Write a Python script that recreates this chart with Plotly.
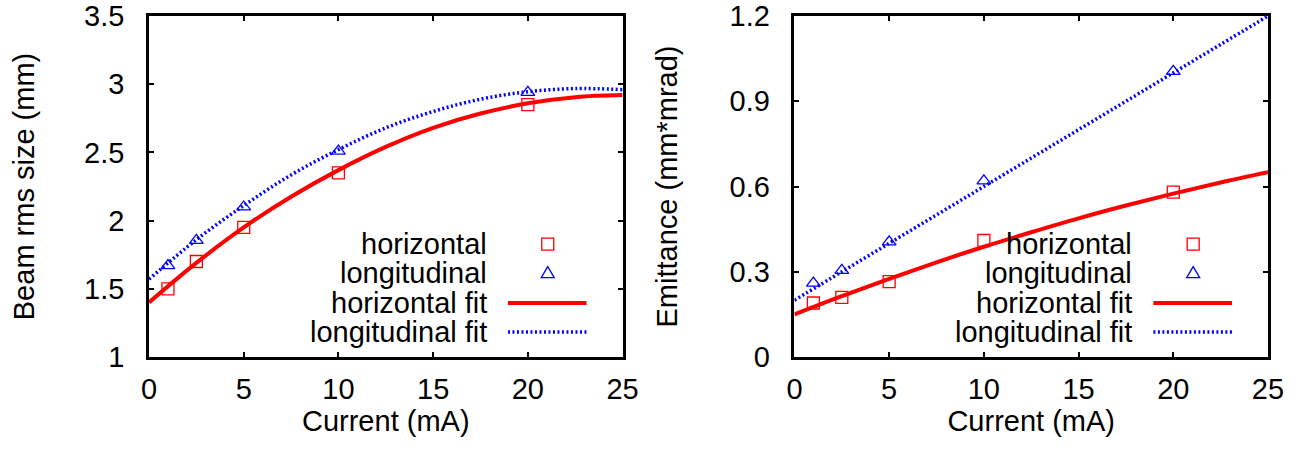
import plotly.graph_objects as go
from plotly.subplots import make_subplots

# ---- data ----
current = [1, 2.5, 5, 10, 20]

size_horizontal = [1.50, 1.70, 1.95, 2.35, 2.85]
size_longitudinal = [1.67, 1.855, 2.10, 2.51, 2.94]

emit_horizontal = [0.19, 0.21, 0.265, 0.41, 0.58]
emit_longitudinal = [0.26, 0.305, 0.405, 0.62, 1.005]

fit_current = [0, 2.5, 5, 7.5, 10, 12.5, 15, 17.5, 20, 22.5, 25]
size_horizontal_fit = [1.40, 1.69, 1.95, 2.175, 2.37, 2.54, 2.68, 2.785, 2.86, 2.905, 2.92]
size_longitudinal_fit = [1.57, 1.86, 2.11, 2.335, 2.52, 2.68, 2.80, 2.89, 2.945, 2.968, 2.96]
emit_horizontal_fit = [0.15, 0.214, 0.275, 0.333, 0.388, 0.439, 0.488, 0.533, 0.575, 0.614, 0.65]
emit_longitudinal_fit = [0.20, 0.30, 0.40, 0.50, 0.60, 0.70, 0.80, 0.90, 1.00, 1.10, 1.20]

legend_labels = ["horizontal", "longitudinal", "horizontal fit", "longitudinal fit"]
x_ticks = [0, 5, 10, 15, 20, 25]
size_ticks = [1, 1.5, 2, 2.5, 3, 3.5]
emit_ticks = [0, 0.3, 0.6, 0.9, 1.2]

RED = "#ff0000"
BLUE = "#0000ff"
FONT = "Liberation Sans, Arial, sans-serif"
FS = 29
DOT = "2px,2.5px"

fig = make_subplots(rows=1, cols=2, horizontal_spacing=0.1536)

panels = [
    (1, size_horizontal, size_longitudinal, size_horizontal_fit, size_longitudinal_fit),
    (2, emit_horizontal, emit_longitudinal, emit_horizontal_fit, emit_longitudinal_fit),
]
for col, h, l, hf, lf in panels:
    fig.add_trace(go.Scatter(x=fit_current, y=hf, mode="lines", line=dict(color=RED, width=4, shape="spline"),
                             showlegend=False), row=1, col=col)
    fig.add_trace(go.Scatter(x=fit_current, y=lf, mode="lines",
                             line=dict(color=BLUE, width=3.5, dash=DOT, shape="spline"),
                             showlegend=False), row=1, col=col)
    fig.add_trace(go.Scatter(x=current, y=h, mode="markers",
                             marker=dict(symbol="square-open", size=12, color=RED, line=dict(width=1.3)),
                             showlegend=False, cliponaxis=False), row=1, col=col)
    fig.add_trace(go.Scatter(x=current, y=l, mode="markers",
                             marker=dict(symbol="triangle-up-open", size=12, color=BLUE, line=dict(width=1.3)),
                             showlegend=False, cliponaxis=False), row=1, col=col)

axis_common = dict(
    showline=True, linecolor="black", linewidth=2.5, mirror="ticks",
    ticks="inside", ticklen=5, tickwidth=2, tickcolor="black",
    showgrid=False, zeroline=False, automargin=False,
    tickfont=dict(family=FONT, size=FS, color="black"),
)

fig.update_xaxes(**axis_common, range=[0, 25], tickvals=x_ticks, ticklabelstandoff=4,
                 title=dict(text="Current (mA)", font=dict(family=FONT, size=FS, color="black"), standoff=2))
fig.update_yaxes(**axis_common, ticklabelstandoff=16)
fig.update_yaxes(range=[1, 3.5], tickvals=size_ticks, row=1, col=1,
                 title=dict(text="Beam rms size (mm)", font=dict(family=FONT, size=FS, color="black"), standoff=41))
fig.update_yaxes(range=[0, 1.2], tickvals=emit_ticks, row=1, col=2,
                 title=dict(text="Emittance (mm*mrad)", font=dict(family=FONT, size=FS, color="black"), standoff=44))

# ---- gnuplot-style key: text right-aligned, sample to its right ----
row_y = [0.331, 0.246, 0.158, 0.073]
text_x = 0.718
sym_x = 0.842
line_x0, line_x1 = 0.758, 0.924
for xr, yr in [("x", "y"), ("x2", "y2")]:
    for lab, yy in zip(legend_labels, row_y):
        fig.add_annotation(text=lab, x=text_x, y=yy, xref=f"{xr} domain", yref=f"{yr} domain",
                           xanchor="right", yanchor="middle", showarrow=False,
                           font=dict(family=FONT, size=FS, color="black"))
    # square sample
    fig.add_shape(type="rect", xref=f"{xr} domain", yref=f"{yr} domain",
                  xsizemode="pixel", ysizemode="pixel", xanchor=sym_x, yanchor=row_y[0],
                  x0=-6, x1=6, y0=-6, y1=6, line=dict(color=RED, width=1.3))
    # triangle sample
    fig.add_shape(type="path", xref=f"{xr} domain", yref=f"{yr} domain",
                  xsizemode="pixel", ysizemode="pixel", xanchor=sym_x, yanchor=row_y[1],
                  path="M -6.5,-4.5 L 6.5,-4.5 L 0,6.5 Z", line=dict(color=BLUE, width=1.3))
    fig.add_shape(type="line", xref=f"{xr} domain", yref=f"{yr} domain",
                  x0=line_x0, x1=line_x1, y0=row_y[2], y1=row_y[2], line=dict(color=RED, width=4))
    fig.add_shape(type="line", xref=f"{xr} domain", yref=f"{yr} domain",
                  x0=line_x0, x1=line_x1, y0=row_y[3], y1=row_y[3],
                  line=dict(color=BLUE, width=3.5, dash=DOT))

fig.update_layout(
    width=1311, height=451,
    margin=dict(l=149, r=43, t=16, b=94),
    paper_bgcolor="white", plot_bgcolor="white",
    font=dict(family=FONT, size=FS, color="black"),
    showlegend=False,
)

# remove the browser's default 8px body margin so the figure fills the window
fig.write_html("out.html", config={"displayModeBar": False},
               post_script="document.body.style.margin='0';document.body.style.overflow='hidden';")
